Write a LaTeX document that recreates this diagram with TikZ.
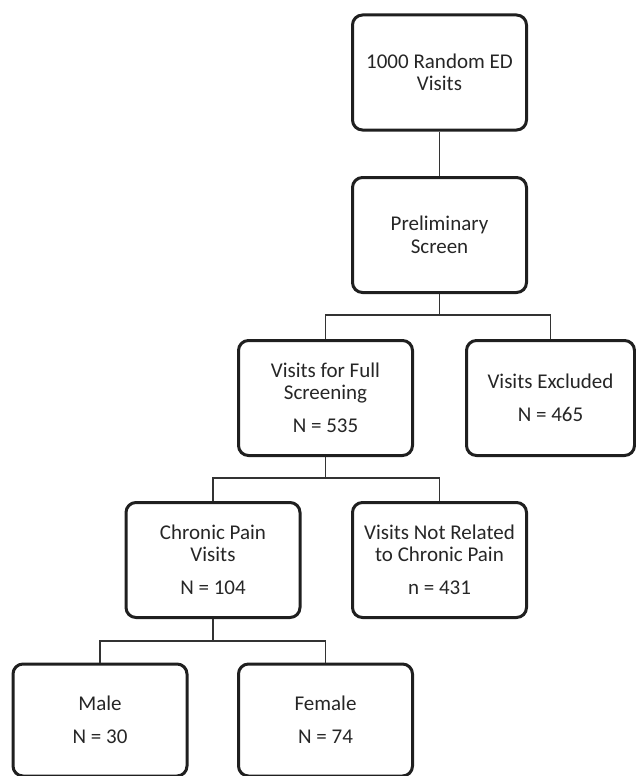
\documentclass[tikz,border=0pt]{standalone}
\usepackage{fontspec}
\setmainfont{Carlito}
\begin{document}
\begin{tikzpicture}[x=1pt,y=-1pt,
  box/.style={draw=black!88, line width=3pt, rounded corners=10pt,
    minimum width=174pt, minimum height=115pt, align=center,
    font=\fontsize{21}{22.5}\selectfont, text=black!85, inner sep=0pt},
  link/.style={draw=black!80, line width=1.3pt}]
\useasboundingbox (0,0) rectangle (636,776);
\node[box] (a) at (439.5,72.5) {1000 Random ED\\Visits};
\node[box] (b) at (439.5,235) {Preliminary\\Screen};
\node[box] (c) at (325.5,398) {Visits for Full\\Screening\\[10.5pt]N = 535};
\node[box, minimum width=168pt] (d) at (550.5,398) {Visits Excluded\\[10.5pt]N = 465};
\node[box] (e) at (213,560) {Chronic Pain\\Visits\\[10.5pt]N = 104};
\node[box] (f) at (439.5,560) {Visits Not Related\\to Chronic Pain\\[10.5pt]n = 431};
\node[box, minimum height=112pt] (g) at (100,720) {Male\\[10.5pt]N = 30};
\node[box, minimum height=112pt] (h) at (325.5,720) {Female\\[10.5pt]N = 74};
\coordinate (j1) at (439.5,315);
\coordinate (j2) at (325.5,478);
\coordinate (j3) at (213,641);
\draw[link] (a.south) -- (b.north);
\draw[link] (b.south) -- (j1);
\draw[link] (c.north) |- (j1) -| (d.north);
\draw[link] (c.south) -- (j2);
\draw[link] (e.north) |- (j2) -| (f.north);
\draw[link] (e.south) -- (j3);
\draw[link] (g.north) |- (j3) -| (h.north);
\end{tikzpicture}
\end{document}
